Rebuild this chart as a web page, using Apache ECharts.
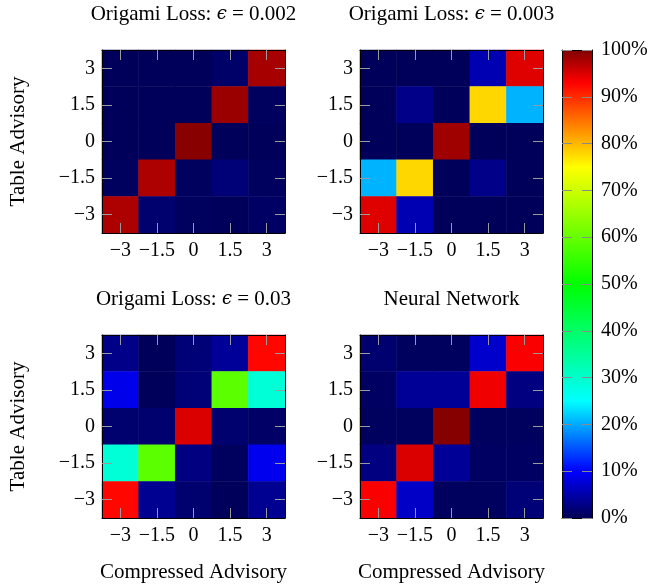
<!DOCTYPE html>
<html><head><meta charset="utf-8">
<script src="https://cdn.jsdelivr.net/npm/echarts@6/dist/echarts.min.js"></script>
<style>html,body{margin:0;padding:0;background:#fff}#c{width:652px;height:584px}</style>
</head><body><div id="c"></div>
<script>
// Categories (both axes of every panel)
const categories = ['−3', '−1.5', '0', '1.5', '3'];
// Colour scale (%)
const colorbarMin = 0, colorbarMax = 100, colorbarStep = 10;

// Panel titles and axis names
const panelTitles = [
  'Origami Loss: {e|ϵ} = 0.002',
  'Origami Loss: {e|ϵ} = 0.003',
  'Origami Loss: {e|ϵ} = 0.03',
  'Neural Network'
];
const xLabel = 'Compressed Advisory';
const yLabel = 'Table Advisory';

// Values (%), rows from top (Table = 3) to bottom (Table = −3), columns Compressed = −3 … 3
const eps002 = [
  [0.3, 0.3, 0.3, 1.2, 97.9],
  [0.3, 0.3, 0.3, 98.5, 0.6],
  [0.3, 0.3, 99.5, 0.3, 0.3],
  [0.5, 97.5, 0.5, 2.0, 0.5],
  [97.5, 1.5, 0.5, 0.3, 0.9]
];
const eps003 = [
  [0.3, 0.3, 0.3, 5.5, 94.8],
  [0.3, 3.0, 0.3, 77.8, 20.5],
  [0.3, 0.3, 98.3, 0.3, 0.3],
  [20.5, 77.8, 0.3, 3.0, 0.3],
  [94.8, 5.5, 0.3, 0.3, 0.3]
];
const eps03 = [
  [3.0, 0.3, 2.0, 4.0, 92.5],
  [8.8, 0.3, 2.0, 59.0, 29.0],
  [1.5, 1.5, 95.0, 1.5, 1.0],
  [29.0, 59.0, 2.5, 0.5, 9.0],
  [92.5, 3.5, 1.5, 0.3, 3.5]
];
const neuralNet = [
  [1.5, 0.5, 0.5, 7.0, 93.3],
  [0.8, 3.8, 3.8, 93.8, 2.6],
  [0.5, 0.5, 99.6, 0.5, 0.5],
  [2.6, 95.0, 3.8, 0.8, 0.8],
  [93.3, 6.7, 0.5, 0.5, 2.0]
];
const panels = [eps002, eps003, eps03, neuralNet];

// ---- styling ----
const FONT = 'Liberation Serif';
const FS = 20, NFS = 21;
const gridRects = [
  {left: 102, top: 50, width: 183, height: 183},
  {left: 360, top: 50, width: 183, height: 183},
  {left: 102, top: 335, width: 183, height: 183},
  {left: 360, top: 335, width: 183, height: 183}
];
const cbRect = {left: 562, top: 50, width: 30, height: 468};

const stops = [[0,[0,0,85]],[0.1,[0,0,255]],[0.25,[0,255,255]],[0.5,[0,255,0]],[0.75,[255,255,0]],[0.93,[255,0,0]],[1,[128,0,0]]];
function cmap(t){
  for (let i = 1; i < stops.length; i++) {
    if (t <= stops[i][0]) {
      const a = stops[i-1], b = stops[i];
      const f = (t - a[0]) / (b[0] - a[0]);
      const c = a[1].map((v, k) => Math.round(v + (b[1][k] - v) * f));
      return 'rgb(' + c.join(',') + ')';
    }
  }
  return 'rgb(128,0,0)';
}
const colors = [];
for (let i = 0; i <= 100; i++) colors.push(cmap(i / 100));
// colorbar gradient (top of bar = max)
const cbGradient = {type: 'linear', x: 0, y: 0, x2: 0, y2: 1,
  colorStops: stops.map(s => ({offset: 1 - s[0], color: 'rgb(' + s[1].join(',') + ')'})).reverse()};

const tickStyle = () => ({show: true, inside: true, length: 10, alignWithLabel: true, lineStyle: {color: '#9a9a9a', width: 1}});
const lineStyle = () => ({show: true, onZero: false, lineStyle: {color: '#000', width: 1}});
const labelStyle = {fontFamily: FONT, fontSize: FS, color: '#000'};
const nameStyle = {fontFamily: FONT, fontSize: NFS, color: '#000',
  rich: {e: {fontFamily: 'DejaVu Serif', fontStyle: 'italic', fontSize: 18, color: '#000'}}};

const grid = [], xAxis = [], yAxis = [], series = [];
gridRects.forEach((g, i) => {
  grid.push(Object.assign({containLabel: false}, g));
  xAxis.push({
    type: 'category', data: categories, gridIndex: i, position: 'bottom', z: 10,
    axisLine: lineStyle(), axisTick: tickStyle(), splitLine: {show: false},
    axisLabel: Object.assign({margin: 8, interval: 0}, labelStyle),
    name: i >= 2 ? xLabel : '', nameLocation: 'middle', nameGap: 44, nameTextStyle: nameStyle
  });
  xAxis.push({
    type: 'category', data: categories, gridIndex: i, position: 'top', z: 10,
    axisLine: lineStyle(), axisTick: tickStyle(), axisLabel: {show: false}, splitLine: {show: false},
    name: panelTitles[i], nameLocation: 'middle', nameGap: 25, nameTextStyle: nameStyle
  });
  yAxis.push({
    type: 'category', data: categories, gridIndex: i, position: 'left', z: 10,
    axisLine: lineStyle(), axisTick: tickStyle(), splitLine: {show: false},
    axisLabel: Object.assign({margin: 7, interval: 0}, labelStyle),
    name: (i % 2 === 0) ? yLabel : '', nameLocation: 'middle', nameGap: 73, nameTextStyle: nameStyle
  });
  yAxis.push({
    type: 'category', data: categories, gridIndex: i, position: 'right', z: 10,
    axisLine: lineStyle(), axisTick: tickStyle(), axisLabel: {show: false}, splitLine: {show: false}
  });
  const data = [];
  panels[i].forEach((row, r) => row.forEach((v, c) => data.push([c, 4 - r, v])));
  series.push({
    type: 'heatmap', xAxisIndex: 2 * i, yAxisIndex: 2 * i, data: data,
    itemStyle: {borderWidth: 0}, emphasis: {disabled: true}, progressive: 0
  });
});

// colorbar: one bar spanning the colour scale, with frame axes
grid.push(Object.assign({containLabel: false}, cbRect));
const cbTick = () => ({show: true, inside: true, length: 10, lineStyle: {color: '#8a8a8a', width: 1}});
xAxis.push({type: 'category', data: [''], gridIndex: 4, position: 'bottom', z: 10, axisLine: lineStyle(),
  axisTick: {show: false}, axisLabel: {show: false}, splitLine: {show: false}});
xAxis.push({type: 'category', data: [''], gridIndex: 4, position: 'top', z: 10, axisLine: lineStyle(),
  axisTick: {show: false}, axisLabel: {show: false}, splitLine: {show: false}});
yAxis.push({type: 'value', gridIndex: 4, min: colorbarMin, max: colorbarMax, interval: colorbarStep, position: 'left', z: 10,
  axisLine: lineStyle(), axisTick: cbTick(), axisLabel: {show: false}, splitLine: {show: false}});
yAxis.push({type: 'value', gridIndex: 4, min: colorbarMin, max: colorbarMax, interval: colorbarStep, position: 'right', z: 10,
  axisLine: lineStyle(), axisTick: cbTick(), splitLine: {show: false},
  axisLabel: Object.assign({margin: 9, formatter: v => v + '%'}, labelStyle)});
series.push({
  type: 'bar', xAxisIndex: 8, yAxisIndex: 8, data: [colorbarMax], barWidth: '100%',
  itemStyle: {color: cbGradient}, emphasis: {disabled: true}, silent: true
});

const chart = echarts.init(document.getElementById('c'), null, {renderer: 'canvas'});
chart.setOption({
  animation: false,
  backgroundColor: '#fff',
  grid, xAxis, yAxis, series,
  visualMap: {
    show: false,
    type: 'continuous', min: colorbarMin, max: colorbarMax, seriesIndex: [0, 1, 2, 3],
    inRange: {color: colors}
  }
});
</script></body></html>
